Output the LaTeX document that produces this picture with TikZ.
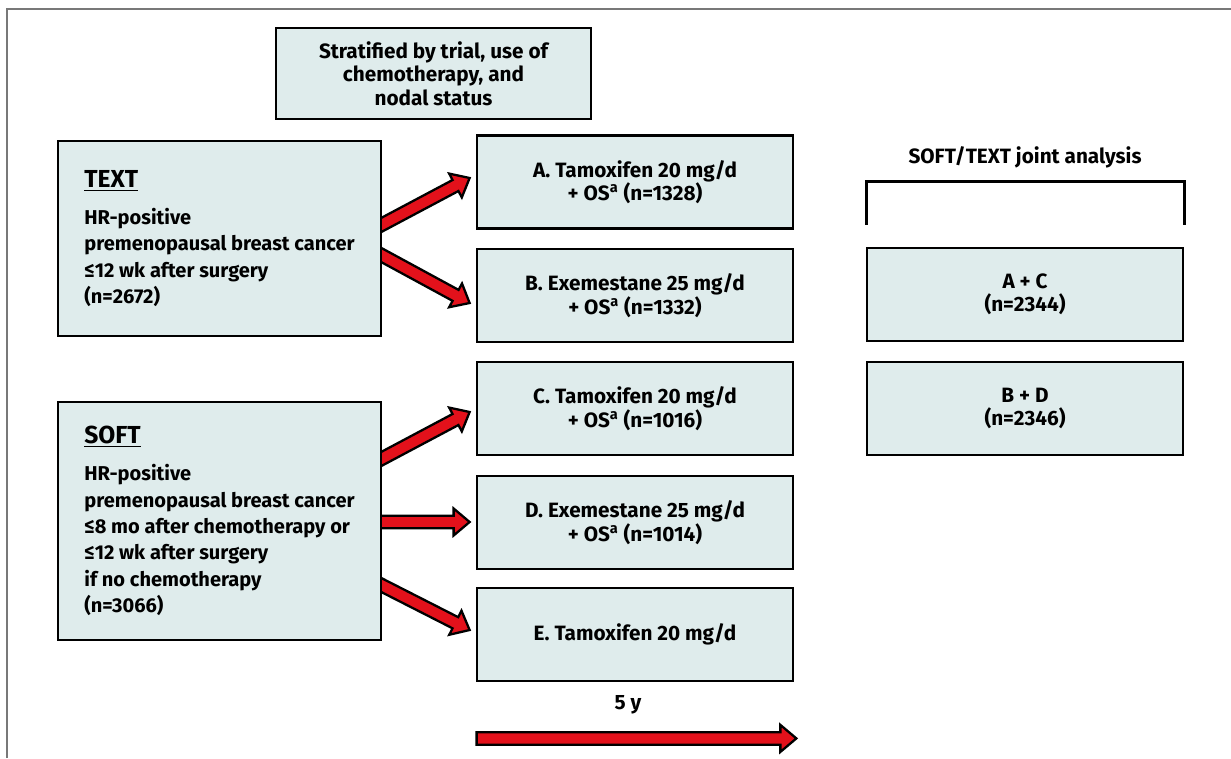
\documentclass[tikz,border=0pt]{standalone}
\usepackage{fontspec}
\setmainfont{Fira Sans}
\usetikzlibrary{calc,positioning,backgrounds}
\definecolor{boxfill}{RGB}{223,236,236}
\definecolor{arrowred}{RGB}{227,17,27}
\definecolor{framegray}{RGB}{120,120,120}
\tikzset{
  box/.style={draw, line width=1.6pt, fill=boxfill, inner sep=0pt,
    font=\bfseries\fontsize{11.8}{13.3}\selectfont, align=center},
  armbox/.style={box, minimum width=6.32cm, minimum height=1.86cm},
  trialbox/.style={box, align=left, minimum width=6.46cm,
    font=\bfseries\fontsize{11.4}{15}\selectfont},
  fatarrow/.style={fill=arrowred, draw=black, line width=1.3pt, line join=miter},
  plain/.style={font=\bfseries\fontsize{11.8}{13.3}\selectfont}
}
% thick red arrow with black outline, from #1 to #2
\newcommand\fatarrow[2]{%
  \coordinate (fas) at (#1);
  \coordinate (fat) at (#2);
  \coordinate (fah) at ($(fat)!0.32cm!(fas)$);
  \filldraw[fatarrow] ($(fas)!0.125cm!90:(fat)$) -- ($(fah)!0.125cm!90:(fat)$)
    -- ($(fah)!0.27cm!90:(fat)$) -- (fat) -- ($(fah)!0.27cm!-90:(fat)$)
    -- ($(fah)!0.125cm!-90:(fat)$) -- ($(fas)!0.125cm!-90:(fat)$) -- cycle;
}
\newcommand\trialtitle[1]{{\fontsize{14}{18}\selectfont\underline{#1}}\\[6pt]}

\begin{document}
\begin{tikzpicture}[x=0.02cm, y=-0.02cm]
    \useasboundingbox (0,0) rectangle (1231,758);
    \draw[framegray, line width=1.2pt] (7,758) -- (7,9) -- (1231,9);

    \node[box, minimum width=6.3cm, minimum height=1.82cm] (strat) at (433.5,73.5)
        {Stratified by trial, use of\\chemotherapy, and\\nodal status};

    \node[trialbox, minimum height=3.9cm] (textb) at (219.5,238.5)
        {\trialtitle{TEXT}HR-positive\\premenopausal breast cancer\\
         ≤12 wk after surgery\\(n=2672)};
    \node[trialbox, minimum height=4.76cm] (softb) at (219.5,521)
        {\trialtitle{SOFT}HR-positive\\premenopausal breast cancer\\
         ≤8 mo after chemotherapy or\\≤12 wk after surgery\\
         if no chemotherapy\\(n=3066)};

    \node[armbox] (a) at (635,182)   {A. Tamoxifen 20 mg/d\\+ OS\textsuperscript{a} (n=1328)};
    \node[armbox] (b) at (635,295.5) {B. Exemestane 25 mg/d\\+ OS\textsuperscript{a} (n=1332)};
    \node[armbox] (c) at (635,408.5) {C. Tamoxifen 20 mg/d\\+ OS\textsuperscript{a} (n=1016)};
    \node[armbox] (d) at (635,522.5) {D. Exemestane 25 mg/d\\+ OS\textsuperscript{a} (n=1014)};
    \node[armbox] (e) at (635,634.5) {E. Tamoxifen 20 mg/d};
    \node[plain] (dur) at (628,705) {5 y};

    \node[plain] (joint) at (1025,157) {SOFT/TEXT joint analysis};
    \node[armbox] (ac) at (1025,294.5) {A + C\\(n=2344)};
    \node[armbox] (bd) at (1025,408.5) {B + D\\(n=2346)};
    \draw[line width=1.6pt] ($(ac.north west)+(1,-22)$) -- ($(ac.north west)+(1,-65)$)
        -- ($(ac.north east)+(0,-65)$) -- ($(ac.north east)+(0,-22)$);

    \begin{scope}[on background layer]
        \fatarrow{$(textb.east)+(-7,-10.4)$}{$(a.west)+(-6,-4)$}
        \fatarrow{$(textb.east)+(-7,13.3)$}{$(b.west)+(-6,7.5)$}
        \fatarrow{$(softb.east)+(-7,-58.9)$}{$(c.west)+(-6,3.5)$}
        \fatarrow{$(softb.east)+(-7,1)$}{$(d.west)+(-6,-0.5)$}
        \fatarrow{$(softb.east)+(-7,61)$}{$(e.west)+(-6,-4.5)$}
    \end{scope}
    \fatarrow{$(e.south west)+(1,56)$}{$(e.south east)+(2,56)$}
\end{tikzpicture}
\end{document}
